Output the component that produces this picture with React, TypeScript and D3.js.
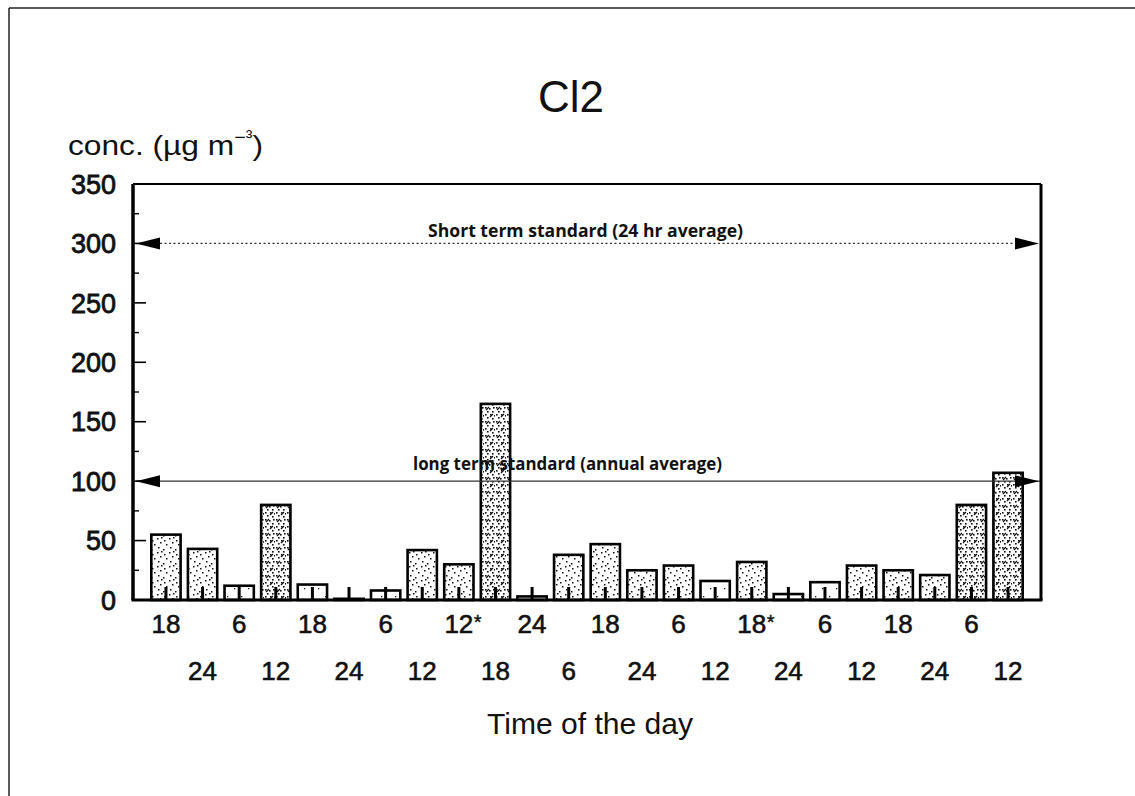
import React from 'react';
import * as d3 from 'd3';

// Sampling times (hour of day) for each bar, in order; '*' marks flagged samples
const timeLabels = [
  '18', '24', '6', '12', '18', '24', '6', '12', '12*', '18', '24', '6',
  '18', '24', '6', '12', '18*', '24', '6', '12', '18', '24', '6', '12',
];

// Cl2 concentration for each sample (µg m⁻³)
const concentrations = [
  55, 43, 12, 80, 13, 1, 8, 42, 30, 165, 3, 38,
  47, 25, 29, 16, 32, 5, 15, 29, 25, 21, 80, 107,
];

// Air-quality standards drawn as reference lines
const standardValues = [300, 100];
const standardLabels = ['Short term standard (24 hr average)', 'long term standard (annual average)'];

const yMajorTicks = [0, 50, 100, 150, 200, 250, 300, 350];
const yMinorTicks = [25, 75, 125, 175, 225, 275, 325];

const W = 1135;
const H = 796;
const plot = { left: 133, right: 1041, top: 184, bottom: 600 };

const FONT = '"Liberation Sans", Arial, Helvetica, sans-serif';

// Stipple textures, from sparse to dense
const stippleLight = [[3, 4], [10, 12]];
const stippleMedium = [[2, 1], [7, 3], [1, 6], [8, 8], [4, 10], [10, 12], [5, 5]];
const stippleDense = [[1, 1], [5, 2], [9, 1], [3, 5], [8, 5], [1, 8], [6, 8], [10, 9], [3, 11], [8, 12]];
const denseDashes = [[2, 4, 5, 1], [6, 11, 9, 8]];

export default function App() {
  const idx = d3.range(concentrations.length);

  const x = d3
    .scaleBand<number>()
    .domain(idx)
    .range([plot.left, plot.right])
    .paddingInner(0.2)
    .paddingOuter(0.5);

  const y = d3.scaleLinear().domain([0, 350]).range([plot.bottom, plot.top]);

  const fillFor = d3
    .scaleThreshold<number, string>()
    .domain([20, 60])
    .range(['url(#stLight)', 'url(#stMedium)', 'url(#stDense)']);

  const bw = x.bandwidth();

  const arrowLeft = (yy: number) =>
    `M${plot.left + 3},${yy} L${plot.left + 27},${yy - 6} L${plot.left + 27},${yy + 6} Z`;
  const arrowRight = (yy: number) =>
    `M${plot.right - 2},${yy} L${plot.right - 26},${yy - 6} L${plot.right - 26},${yy + 6} Z`;

  const labelFont = '"Open Sans", "DejaVu Sans", sans-serif';

  return (
    <svg
      width={W}
      height={H}
      viewBox={`0 0 ${W} ${H}`}
      style={{ position: 'absolute', left: 0, top: 0, background: '#fff' }}
      fontFamily={FONT}
    >
      <defs>
        <pattern id="stLight" width={14} height={16} patternUnits="userSpaceOnUse">
          <rect width={14} height={16} fill="#fff" />
          {stippleLight.map(([px, py], i) => (
            <rect key={i} x={px} y={py} width={1.3} height={1.3} fill="#222" />
          ))}
        </pattern>
        <pattern id="stMedium" width={12} height={14} patternUnits="userSpaceOnUse">
          <rect width={12} height={14} fill="#fff" />
          {stippleMedium.map(([px, py], i) => (
            <rect key={i} x={px} y={py} width={1.5} height={1.5} fill="#111" />
          ))}
        </pattern>
        <pattern id="stDense" width={11} height={14} patternUnits="userSpaceOnUse">
          <rect width={11} height={14} fill="#fff" />
          {stippleDense.map(([px, py], i) => (
            <rect key={i} x={px} y={py} width={1.6} height={1.6} fill="#111" />
          ))}
          {denseDashes.map(([x1, y1, x2, y2], i) => (
            <line key={i} x1={x1} y1={y1} x2={x2} y2={y2} stroke="#111" strokeWidth={1.3} />
          ))}
        </pattern>
      </defs>

      {/* page border */}
      <line x1={9} y1={8} x2={W} y2={8} stroke="#222" strokeWidth={1.5} />
      <line x1={9} y1={8} x2={9} y2={H} stroke="#222" strokeWidth={1.5} />

      {/* title and axis caption */}
      <text x={571} y={112} fontSize={44} textAnchor="middle" fill="#111">
        Cl2
      </text>
      <text x={68} y={155} fontSize={27} fill="#111" textLength={195} lengthAdjust="spacingAndGlyphs">
        conc. (µg m
        <tspan dy={-12} fontSize={17}>
          −³
        </tspan>
        <tspan dy={12}>)</tspan>
      </text>

      {/* bars */}
      {concentrations.map((v, i) => (
        <rect
          key={i}
          x={x(i)!}
          y={y(v)}
          width={bw}
          height={y(0) - y(v)}
          fill={fillFor(v)}
          stroke="#000"
          strokeWidth={2.6}
        />
      ))}

      {/* x-axis inward ticks at bar centres */}
      {idx.map((i) => (
        <line
          key={i}
          x1={x(i)! + bw / 2}
          x2={x(i)! + bw / 2}
          y1={plot.bottom}
          y2={plot.bottom - 13}
          stroke="#000"
          strokeWidth={3}
        />
      ))}

      {/* standards */}
      <line
        x1={plot.left + 27}
        x2={plot.right - 26}
        y1={y(standardValues[0])}
        y2={y(standardValues[0])}
        stroke="#333"
        strokeWidth={1.3}
        strokeDasharray="2 2.5"
      />
      <path d={arrowLeft(y(standardValues[0]))} fill="#000" />
      <path d={arrowRight(y(standardValues[0]))} fill="#000" />
      <text
        x={428}
        y={y(standardValues[0]) - 6}
        fontSize={17}
        fontWeight={700}
        fontFamily={labelFont}
        textLength={315}
        lengthAdjust="spacingAndGlyphs"
        fill="#111"
      >
        {standardLabels[0]}
      </text>

      <line
        x1={plot.left + 3}
        x2={plot.right}
        y1={y(standardValues[1])}
        y2={y(standardValues[1])}
        stroke="#333"
        strokeWidth={1.4}
      />
      <path d={arrowLeft(y(standardValues[1]))} fill="#000" />
      <path d={arrowRight(y(standardValues[1]))} fill="#000" />
      <text
        x={413}
        y={y(standardValues[1]) - 11}
        fontSize={17}
        fontWeight={700}
        fontFamily={labelFont}
        textLength={309}
        lengthAdjust="spacingAndGlyphs"
        fill="#111"
      >
        {standardLabels[1]}
      </text>

      {/* plot frame */}
      <line x1={plot.left} x2={plot.right} y1={plot.top} y2={plot.top} stroke="#000" strokeWidth={2} />
      <line x1={plot.right} x2={plot.right} y1={plot.top} y2={plot.bottom} stroke="#000" strokeWidth={3} />
      <line x1={plot.left} x2={plot.left} y1={plot.top} y2={plot.bottom} stroke="#000" strokeWidth={3.5} />
      <line x1={plot.left - 1.5} x2={plot.right + 1.5} y1={plot.bottom} y2={plot.bottom} stroke="#000" strokeWidth={3} />

      {/* y ticks */}
      {yMajorTicks.map((t) => (
        <g key={`M${t}`}>
          <line x1={plot.left} x2={plot.left + 13} y1={y(t)} y2={y(t)} stroke="#000" strokeWidth={1.6} />
          <text
            x={116}
            y={y(t)}
            dy="0.36em"
            fontSize={27}
            textAnchor="end"
            fill="#111"
            stroke="#111"
            strokeWidth={0.8}
          >
            {t}
          </text>
        </g>
      ))}
      {yMinorTicks.map((t) => (
        <line key={`m${t}`} x1={plot.left} x2={plot.left + 6} y1={y(t)} y2={y(t)} stroke="#000" strokeWidth={1.4} />
      ))}

      {/* x tick labels, staggered over two rows */}
      {timeLabels.map((lab, i) => {
        const cx = x(i)! + bw / 2;
        const yy = i % 2 === 0 ? 633 : 680;
        const star = lab.endsWith('*');
        const num = star ? lab.slice(0, -1) : lab;
        return (
          <g key={i}>
            <text x={cx} y={yy} fontSize={26} textAnchor="middle" fill="#111" stroke="#111" strokeWidth={0.6}>
              {num}
            </text>
            {star && (
              <text x={cx + num.length * 7 + 1} y={yy - 4} fontSize={20} fill="#111" stroke="#111" strokeWidth={0.4}>
                *
              </text>
            )}
          </g>
        );
      })}

      <text x={590} y={734} fontSize={29} textAnchor="middle" fill="#111" textLength={206} lengthAdjust="spacingAndGlyphs">
        Time of the day
      </text>
    </svg>
  );
}
